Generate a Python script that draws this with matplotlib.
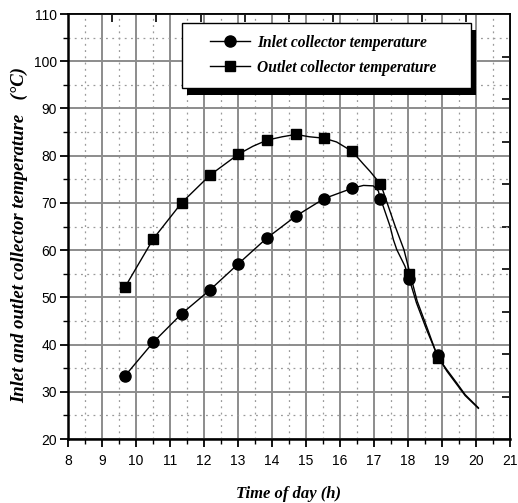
import matplotlib.pyplot as plt
from matplotlib.patches import Rectangle
from matplotlib.transforms import IdentityTransform
from matplotlib.legend_handler import HandlerLine2D

# marker positions (hour, temperature in C)
hours = [9.68, 10.51, 11.34, 12.18, 13.01, 13.84, 14.70, 15.53, 16.36, 17.18, 18.04, 18.87]
inlet = [33.4, 40.5, 46.5, 51.6, 57.1, 62.5, 67.2, 70.9, 73.1, 70.9, 53.8, 37.8]
outlet = [52.2, 62.4, 70.0, 75.9, 80.3, 83.3, 84.5, 83.7, 80.9, 73.9, 55.0, 37.1]

# traced curves (denser points)
inlet_curve_x = [9.68, 10.51, 11.34, 12.18, 13.01, 13.84, 14.70, 15.53, 16.36, 16.69, 16.98,
                 17.13, 17.18, 17.27, 17.47, 17.57, 17.67, 17.91, 18.04, 18.25, 18.55, 18.87,
                 19.14, 19.43, 19.68, 20.07]
inlet_curve_y = [33.4, 40.5, 46.5, 51.6, 57.1, 62.5, 67.2, 70.9, 73.1, 73.7, 73.6,
                 72.5, 70.9, 69.3, 65.1, 62.2, 60.1, 56.6, 53.8, 48.8, 43.1, 37.6,
                 34.4, 31.6, 29.2, 26.5]
outlet_curve_x = [9.68, 10.51, 11.34, 12.18, 13.01, 13.44, 13.86, 14.3, 14.70, 15.1, 15.53,
                  15.9, 16.36, 16.69, 16.88, 17.2, 17.42, 17.62, 17.88, 18.06, 18.27, 18.57,
                  18.87, 19.15, 19.44, 19.68, 20.07]
outlet_curve_y = [52.2, 62.4, 70.0, 75.9, 80.3, 82.0, 83.3, 84.0, 84.5, 84.0, 83.7,
                  82.9, 80.9, 78.2, 76.7, 73.9, 69.3, 65.1, 60.1, 55.0, 49.2, 43.4,
                  37.4, 34.6, 31.8, 29.4, 26.6]

labels = ["Inlet collector temperature", "Outlet collector temperature"]

serif = {"family": "Liberation Serif", "weight": "bold", "style": "italic"}
plt.rcParams["font.family"] = "Liberation Sans"

fig = plt.figure(figsize=(5.18, 5.03), dpi=100)
ax = fig.add_axes([68 / 518, 1 - 439 / 503, 442 / 518, 425 / 503])

ax.plot(inlet_curve_x, inlet_curve_y, color="black", lw=1.0, zorder=3)
ax.plot(outlet_curve_x, outlet_curve_y, color="black", lw=1.0, zorder=3)
ax.plot(hours, inlet, "o", color="black", ms=8, zorder=4)
ax.plot(hours, outlet, "s", color="black", ms=7.5, zorder=4)

# proxy handles for legend
h1, = ax.plot([], [], "-o", color="black", lw=1.0, ms=8)
h2, = ax.plot([], [], "-s", color="black", lw=1.0, ms=7.5)

ax.set_xlim(8, 21)
ax.set_ylim(20, 110)
ax.set_xticks(range(8, 22))
ax.set_yticks(range(20, 111, 10))
ax.set_xticks([x + 0.5 for x in range(8, 21)], minor=True)
ax.set_yticks(range(25, 110, 10), minor=True)
ax.tick_params(which="major", direction="out", length=6, width=1.3, labelsize=10, pad=2)
ax.tick_params(axis="x", which="major", pad=5)
ax.tick_params(which="minor", direction="out", length=3.5, width=1.0)
ax.grid(which="major", color="#8c8c8c", lw=1.4, ls="-")
ax.grid(which="minor", color="#9a9a9a", lw=0.9, ls=(0, (1.5, 3.5)))
ax.set_axisbelow(True)

for side in ["left", "bottom"]:
    ax.spines[side].set_linewidth(1.8)
for side in ["top", "right"]:
    ax.spines[side].set_linewidth(1.2)

# top and right axes: ten equal divisions, inward ticks, no labels
top = ax.secondary_xaxis("top", functions=(lambda x: (x - 8) / 1.3, lambda t: 8 + t * 1.3))
top.set_xticks(range(1, 10))
top.tick_params(direction="in", length=6, width=1.2, labeltop=False)
right = ax.secondary_yaxis("right", functions=(lambda y: (y - 20) / 9, lambda t: 20 + t * 9))
right.set_yticks(range(1, 10))
right.tick_params(direction="in", length=6, width=1.2, labelright=False)
top.spines["top"].set_linewidth(1.2)
right.spines["right"].set_linewidth(1.2)

ax.set_xlabel("Time of day (h)", fontdict=serif, fontsize=12, labelpad=13)
ax.set_ylabel("Inlet and outlet collector temperature   (\u00b0C)", fontdict=serif,
              fontsize=13.5, labelpad=5)
ax.yaxis.set_label_coords(-0.09, 0.479)

leg = ax.legend([h1, h2], labels, loc="upper left", bbox_to_anchor=(0.258, 0.879, 0.654, 0.1),
                mode="expand",
                prop={"family": "Liberation Serif", "weight": "bold", "style": "italic", "size": 11.2},
                frameon=True, fancybox=False, edgecolor="black", framealpha=1,
                handlelength=3.6, handletextpad=0.5, borderpad=0.75, labelspacing=0.6,
                borderaxespad=0,
                handler_map={h1: HandlerLine2D(xpad=1.05), h2: HandlerLine2D(xpad=1.05)})
leg.get_frame().set_linewidth(1.0)
leg.set_zorder(6)

# solid offset shadow behind the legend box
fig.canvas.draw()
bb = leg.get_window_extent()
shadow = Rectangle((bb.x0 + 5, bb.y0 - 7), bb.width, bb.height, transform=IdentityTransform(),
                   facecolor="black", edgecolor="none", zorder=5)
ax.add_artist(shadow)

fig.savefig("out.png", dpi=100)
